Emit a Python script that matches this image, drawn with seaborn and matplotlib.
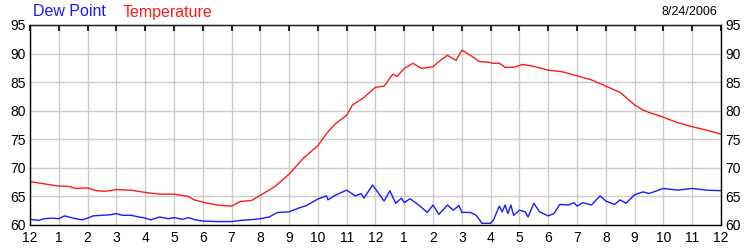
import matplotlib
matplotlib.use("Agg")
import matplotlib.pyplot as plt
import seaborn as sns
import pandas as pd

# hours since midnight and readings (°F)
temp_hours = [0, 0.5, 1.0, 1.3, 1.6, 2.0, 2.3, 2.6, 3.0, 3.5, 4.0, 4.5, 5.0, 5.5, 5.7,
              6.0, 6.5, 7.0, 7.3, 7.7, 8.0, 8.5, 9.0, 9.5, 10.0, 10.3, 10.6, 11.0, 11.2,
              11.57, 12.0, 12.3, 12.6, 12.75, 13.0, 13.3, 13.6, 14.0, 14.2, 14.5, 14.8,
              15.0, 15.3, 15.6, 15.9, 16.1, 16.3, 16.5, 16.8, 17.1, 17.5, 18.0, 18.5,
              19.0, 19.5, 20.0, 20.5, 21.0, 21.3, 21.5, 22.0, 22.5, 23.0, 23.5, 24.0]
temperature = [67.6, 67.2, 66.8, 66.8, 66.4, 66.5, 66.0, 65.9, 66.2, 66.1, 65.7, 65.4,
               65.4, 65.0, 64.4, 64.0, 63.5, 63.3, 64.1, 64.3, 65.2, 66.7, 68.9, 71.7,
               73.9, 76.0, 77.7, 79.2, 81.0, 82.2, 84.1, 84.3, 86.4, 86.0, 87.4, 88.3,
               87.4, 87.7, 88.6, 89.7, 88.8, 90.6, 89.7, 88.6, 88.5, 88.3, 88.3, 87.6,
               87.6, 88.1, 87.75, 87.1, 86.8, 86.1, 85.4, 84.3, 83.2, 81.0, 80.1, 79.7,
               78.85, 77.9, 77.2, 76.6, 75.9]

dew_hours = [0, 0.3, 0.5, 0.75, 1.0, 1.2, 1.5, 1.8, 2.0, 2.2, 2.5, 2.8, 3.0, 3.2, 3.5,
             4.0, 4.2, 4.5, 4.8, 5.0, 5.3, 5.5, 5.75, 6.0, 6.5, 7.0, 7.3, 7.6, 8.0, 8.3,
             8.6, 9.0, 9.3, 9.6, 10.0, 10.3, 10.35, 10.6, 11.0, 11.3, 11.5, 11.6, 11.9,
             12.3, 12.5, 12.7, 12.9, 13.0, 13.2, 13.5, 13.8, 14.0, 14.2, 14.5, 14.7, 14.9,
             15.0, 15.3, 15.5, 15.7, 16.0, 16.1, 16.3, 16.4, 16.5, 16.6, 16.7, 16.8,
             17.0, 17.2, 17.3, 17.5, 17.7, 18.0, 18.2, 18.4, 18.7, 18.9, 19.0, 19.2,
             19.5, 19.8, 20.0, 20.3, 20.5, 20.7, 21.0, 21.3, 21.5, 22.0, 22.5, 23.0,
             23.5, 24.0]
dew_point = [61.0, 60.8, 61.1, 61.2, 61.1, 61.6, 61.2, 60.9, 61.2, 61.6, 61.7, 61.8,
             62.0, 61.7, 61.7, 61.2, 60.9, 61.4, 61.1, 61.3, 61.0, 61.3, 60.9, 60.7,
             60.6, 60.6, 60.8, 60.9, 61.1, 61.4, 62.2, 62.3, 62.9, 63.4, 64.55, 65.1,
             64.4, 65.2, 66.1, 65.1, 65.5, 64.7, 67.0, 64.2, 66.0, 63.8, 64.7, 63.9,
             64.6, 63.5, 62.2, 63.5, 61.85, 63.5, 62.6, 63.4, 62.2, 62.2, 61.7, 60.3,
             60.3, 60.9, 63.3, 62.3, 63.5, 62.0, 63.5, 61.7, 62.6, 62.3, 61.4, 63.8,
             62.3, 61.6, 62.0, 63.6, 63.5, 63.9, 63.3, 63.9, 63.5, 65.1, 64.2, 63.6,
             64.4, 63.8, 65.3, 65.8, 65.5, 66.4, 66.1, 66.4, 66.1, 66.0]

x_tick_labels = ["12", "1", "2", "3", "4", "5", "6", "7", "8", "9", "10", "11",
                 "12", "1", "2", "3", "4", "5", "6", "7", "8", "9", "10", "11", "12"]
y_ticks = [60, 65, 70, 75, 80, 85, 90, 95]
date_label = "8/24/2006"

sns.set_style("white")
plt.rcParams["font.family"] = ["Liberation Sans", "DejaVu Sans"]

fig = plt.figure(figsize=(7.5, 2.5), dpi=100)
ax = fig.add_axes([0.04, 0.1, 0.9213, 0.8])

temp_df = pd.DataFrame({"hour": temp_hours, "value": temperature})
dew_df = pd.DataFrame({"hour": dew_hours, "value": dew_point})

sns.lineplot(data=dew_df, x="hour", y="value", ax=ax, color="#1a1aff", linewidth=1.0)
sns.lineplot(data=temp_df, x="hour", y="value", ax=ax, color="#ff1a1a", linewidth=1.0)

ax.set_xlim(0, 24)
ax.set_ylim(60, 95)
ax.set_xticks(range(25))
ax.set_xticklabels(x_tick_labels)
ax.set_yticks(y_ticks)
ax.set_xlabel("")
ax.set_ylabel("")
ax.grid(True, color="#cccccc", linewidth=1.0)
ax.set_axisbelow(True)
for s in ax.spines.values():
    s.set_color("black")
    s.set_linewidth(1.0)

ax.tick_params(axis="x", length=0, pad=4, labelsize=10, colors="black")
ax.tick_params(axis="y", length=0, pad=3, labelsize=10, colors="black",
               labelleft=True, labelright=True)

top = ax.secondary_xaxis("top")
top.set_xticks(range(25))
top.tick_params(direction="in", length=4, width=1.2, labeltop=False, color="black")
top.set_zorder(5)

fig.text(0.044, 0.952, "Dew Point", color="#1a1aff", fontsize=11.5, va="center", ha="left")
fig.text(0.164, 0.952, "Temperature", color="#ff1a1a", fontsize=11.5, va="center", ha="left")
fig.text(0.956, 0.952, date_label, color="black", fontsize=9, va="center", ha="right")

fig.savefig("out.png", dpi=100)
